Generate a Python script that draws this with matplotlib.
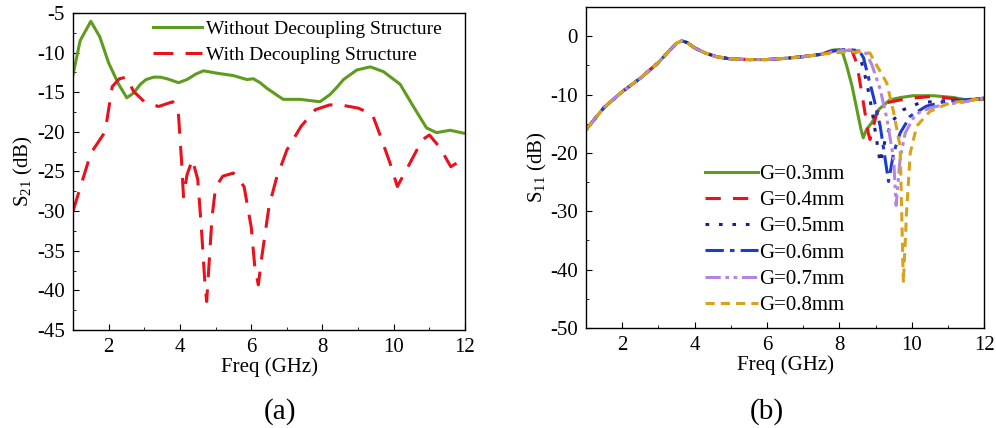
import numpy as np
import matplotlib
matplotlib.use("Agg")
import matplotlib.pyplot as plt
from matplotlib.ticker import MultipleLocator

plt.rcParams['font.family'] = ['Liberation Serif', 'DejaVu Serif']
plt.rcParams['mathtext.fontset'] = 'custom'
plt.rcParams['mathtext.rm'] = 'Liberation Serif'
plt.rcParams['mathtext.default'] = 'regular'
plt.rcParams['axes.unicode_minus'] = False
plt.rcParams['font.size'] = 15

# ---- (a) S21 with / without decoupling structure ----
f_without = [1.0, 1.2, 1.5, 1.75, 2.0, 2.28, 2.51, 2.7, 2.89, 3.05, 3.26, 3.45, 3.64,
             3.96, 4.2, 4.45, 4.66, 5.04, 5.5, 5.88, 6.06, 6.25, 6.44, 6.7, 6.9,
             7.37, 7.93, 8.21, 8.4, 8.59, 8.96, 9.34, 9.71, 10.18, 10.55, 10.92,
             11.2, 11.58, 12.0]
s21_without = [-12.8, -8.5, -6.05, -8.0, -11.3, -14.0, -15.7, -15.1, -14.0, -13.4,
               -13.1, -13.1, -13.3, -13.8, -13.4, -12.7, -12.3, -12.6, -12.9, -13.4,
               -13.3, -13.8, -14.5, -15.3, -15.9, -15.9, -16.2, -15.3, -14.4, -13.4,
               -12.2, -11.8, -12.4, -14.0, -16.8, -19.5, -20.1, -19.8, -20.2]

f_with = [1.0, 1.5, 1.9, 2.1, 2.3, 2.5, 2.7, 3.0, 3.4, 3.8, 3.95, 4.05, 4.1, 4.2,
          4.35, 4.5, 4.6, 4.7, 4.75, 4.8, 4.9, 5.0, 5.2, 5.5, 5.8, 6.0, 6.1, 6.2,
          6.3, 6.5, 6.7, 7.0, 7.4, 7.8, 8.2, 8.5, 9.0, 9.4, 9.6, 9.9, 10.1, 10.4,
          10.8, 11.0, 11.3, 11.6, 12.0]
s21_with = [-30.0, -22.7, -20.0, -14.3, -13.3, -13.1, -14.9, -16.2, -16.8, -16.2,
            -17.2, -24.0, -28.2, -25.4, -23.5, -26.0, -32.0, -39.0, -41.4, -37.9,
            -30.8, -27.0, -25.6, -25.2, -26.9, -32.0, -37.0, -39.3, -35.7, -29.4,
            -26.0, -22.3, -19.3, -17.2, -16.6, -16.6, -17.0, -17.8, -20.2, -24.0,
            -26.9, -24.4, -21.0, -20.4, -22.0, -24.4, -23.3]

# ---- (b) S11 versus gap G ----
f_common = [1.0, 1.5, 2.0, 2.5, 3.0, 3.3, 3.5, 3.65, 3.8, 4.0, 4.3, 4.6, 5.0, 5.5,
            6.0, 6.5, 7.0, 7.5]
s11_common = [-16.0, -12.2, -9.5, -7.2, -4.5, -2.5, -1.2, -0.8, -1.1, -2.0, -2.9,
              -3.5, -3.9, -4.0, -4.0, -3.8, -3.5, -3.1]

gap_labels = ['G=0.3mm', 'G=0.4mm', 'G=0.5mm', 'G=0.6mm', 'G=0.7mm', 'G=0.8mm']

f_tail = [
    [7.8, 8.0, 8.1, 8.2, 8.35, 8.5, 8.6, 8.66, 8.75, 8.9, 9.1, 9.4, 9.7, 10.04,
     10.6, 11.15, 11.5, 12.0],
    [7.8, 8.0, 8.2, 8.35, 8.48, 8.62, 8.8, 8.85, 9.04, 9.31, 9.7, 10.05, 10.6,
     11.0, 11.5, 12.0],
    [7.8, 8.0, 8.3, 8.45, 8.62, 8.76, 8.9, 9.13, 9.27, 9.45, 9.77, 10.23, 10.8,
     11.5, 12.0],
    [7.8, 8.0, 8.3, 8.55, 8.67, 8.76, 8.94, 9.13, 9.36, 9.5, 9.68, 9.96, 10.4,
     10.97, 11.5, 12.0],
    [7.8, 8.0, 8.3, 8.6, 8.75, 8.9, 9.13, 9.31, 9.5, 9.57, 9.68, 9.82, 10.1, 10.5,
     11.0, 11.34, 12.0],
    [7.8, 8.0, 8.3, 8.6, 8.85, 8.94, 9.08, 9.31, 9.5, 9.68, 9.77, 9.86, 9.96,
     10.14, 10.5, 11.06, 11.5, 12.0],
]
s11_tail = [
    [-2.4, -2.3, -3.0, -5.0, -8.5, -13.0, -16.0, -17.4, -16.0, -14.8, -12.5, -10.9,
     -10.5, -10.2, -10.2, -10.5, -10.9, -10.8],
    [-2.5, -2.3, -2.3, -2.5, -4.6, -9.7, -16.6, -17.7, -13.0, -11.4, -10.9, -10.6,
     -10.3, -10.6, -10.9, -10.7],
    [-2.6, -2.4, -2.3, -2.5, -4.6, -8.0, -12.6, -21.7, -17.7, -14.6, -12.6, -11.4,
     -11.1, -10.9, -10.6],
    [-2.6, -2.4, -2.3, -2.5, -3.7, -6.0, -10.3, -15.4, -24.9, -20.0, -16.6, -13.7,
     -12.0, -11.1, -10.9, -10.6],
    [-2.7, -2.5, -2.4, -2.5, -3.0, -4.9, -9.1, -14.0, -21.0, -29.0, -21.0, -16.6,
     -13.4, -12.3, -11.6, -11.4, -10.6],
    [-2.9, -2.8, -2.7, -2.7, -2.9, -4.0, -5.5, -8.0, -13.0, -18.9, -42.3, -30.0,
     -20.0, -15.4, -12.9, -11.4, -11.1, -10.6],
]

gap_colors = ['#5e9b1e', '#e8121c', '#1a1f8a', '#1c3ccc', '#b384e0', '#d9a21c']
gap_styles = ['-', (0, (5, 4)), (0, (1.2, 3.2)), (0, (6, 2, 1.5, 2)),
              (0, (5, 1.5, 1.2, 1.5, 1.2, 1.5)), (0, (3, 2))]

fig = plt.figure(figsize=(9.96, 4.28), dpi=100)
ax1 = fig.add_axes([0.0733, 0.229, 0.3936, 0.7407])
ax2 = fig.add_axes([0.5884, 0.2336, 0.3996, 0.75])

ax1.plot(f_without, s21_without, color='#5e9b1e', lw=2.2,
         label='Without Decoupling Structure')
ax1.plot(f_with, s21_with, color='#e8121c', lw=2.2, ls=(0, (6.5, 4)),
         label='With Decoupling Structure')
ax1.set_xlim(1, 12)
ax1.set_ylim(-45, -5)
ax1.set_yticks(np.arange(-45, -4, 5))
ax1.set_xticks([2, 4, 6, 8, 10, 12])
ax1.xaxis.set_minor_locator(MultipleLocator(1))
ax1.yaxis.set_minor_locator(MultipleLocator(2.5))
ax1.set_xlabel('Freq (GHz)', labelpad=0)
ax1.set_ylabel('S$_{21}$ (dB)', labelpad=1)
ax1.legend(loc='upper left', bbox_to_anchor=(0.194, 0.99), frameon=False,
           fontsize=14, handlelength=2.5, handletextpad=0.25, labelspacing=0.43,
           borderpad=0.2, borderaxespad=0)

for k in range(len(gap_labels)):
    f = f_common + f_tail[k]
    s = s11_common + s11_tail[k]
    ax2.plot(f, s, color=gap_colors[k], ls=gap_styles[k], lw=2.2,
             label=gap_labels[k])
ax2.set_xlim(1, 12)
ax2.set_ylim(-50, 5)
ax2.set_yticks(np.arange(-50, 1, 10))
ax2.set_xticks([2, 4, 6, 8, 10, 12])
ax2.xaxis.set_minor_locator(MultipleLocator(1))
ax2.yaxis.set_minor_locator(MultipleLocator(5))
ax2.set_xlabel('Freq (GHz)', labelpad=0)
ax2.set_ylabel('S$_{11}$ (dB)', labelpad=1)
ax2.legend(loc='upper left', bbox_to_anchor=(0.299, 0.51), frameon=False,
           handlelength=2.55, handletextpad=0.05, labelspacing=0.32, borderpad=0.0,
           borderaxespad=0)

for ax in (ax1, ax2):
    ax.tick_params(which='both', direction='in', top=False, right=False,
                   labelsize=15)
    ax.tick_params(which='major', length=4, pad=6)
    ax.tick_params(which='minor', length=2.5)
    for sp in ax.spines.values():
        sp.set_linewidth(1.0)

fig.text(0.281, 0.038, '(a)', ha='center', va='center', fontsize=21)
fig.text(0.770, 0.038, '(b)', ha='center', va='center', fontsize=21)

fig.savefig('out.png', dpi=100)
